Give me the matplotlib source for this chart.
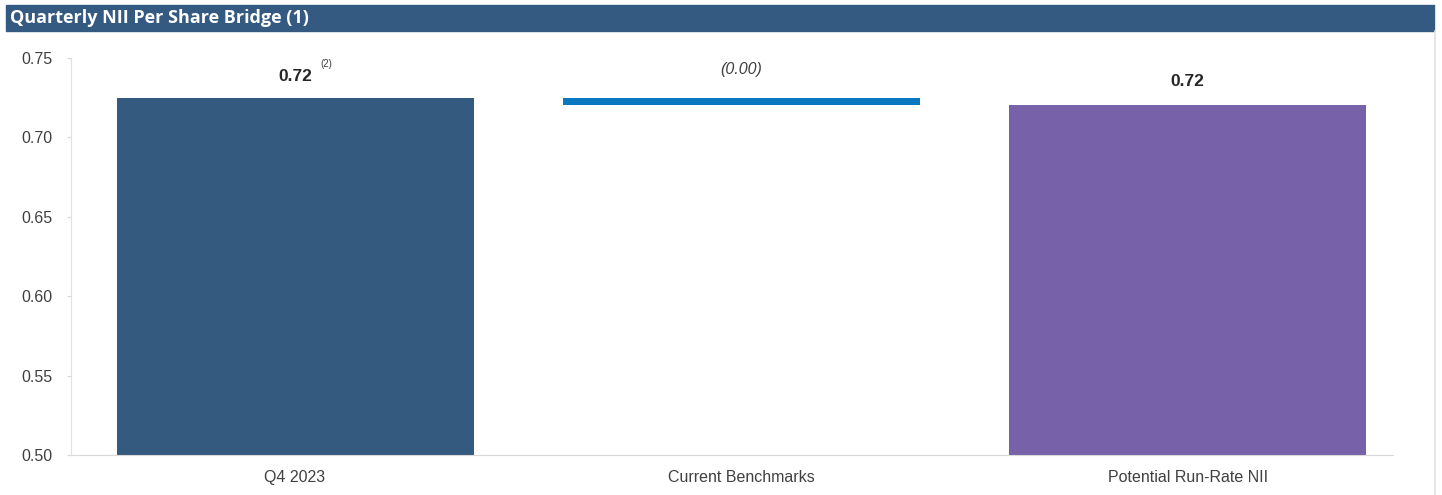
import matplotlib
matplotlib.use("Agg")
import matplotlib.pyplot as plt
from matplotlib.patches import Rectangle
from matplotlib.lines import Line2D

# data
categories = ["Q4 2023", "Current Benchmarks", "Potential Run-Rate NII"]
start_value = 0.7245
change = -0.0041
end_value = start_value + change
labels = ["0.72", "(0.00)", "0.72"]
yticks = [0.50, 0.55, 0.60, 0.65, 0.70, 0.75]
title = "Quarterly NII Per Share Bridge (1)"

plt.rcParams["font.family"] = ["Liberation Sans", "DejaVu Sans"]

fig = plt.figure(figsize=(14.42, 4.95), dpi=100)
ax = fig.add_axes([71 / 1442, 40 / 495, 1322 / 1442, (455 - 58) / 495])

# title bar
fig.patches.append(Rectangle((6 / 1442, 1 - 31 / 495), 1428 / 1442, 26 / 495,
                             transform=fig.transFigure, color="#345a82", zorder=0))
fig.text(10 / 1442, 1 - 18 / 495, title, color="white", fontsize=13,
         fontweight="bold", family=["Open Sans", "DejaVu Sans"], va="center", ha="left")
# right border line
fig.lines.append(Line2D([1435 / 1442, 1435 / 1442], [0, 1 - 31 / 495],
                        transform=fig.transFigure, color="#e0e0e0", lw=1.2))

x = range(len(categories))
bottom = 0.5
ax.bar(0, start_value - bottom, bottom=bottom, width=0.8, color="#345a80")
ax.bar(1, abs(change), bottom=end_value, width=0.8, color="#0a78c0")
ax.bar(2, end_value - bottom, bottom=bottom, width=0.8, color="#7761a9")

ax.set_ylim(0.5, 0.75)
ax.set_xlim(-0.502, 2.46)
ax.set_yticks(yticks)
ax.set_yticklabels(["%.2f" % v for v in yticks])
ax.set_xticks(list(x))
ax.set_xticklabels(categories)
ax.tick_params(axis="y", labelsize=11.5, colors="#d8d8d8", labelcolor="#404040",
               length=3, pad=10)
ax.tick_params(axis="x", labelsize=11.5, labelcolor="#404040", length=0, pad=11)

for s in ["top", "right"]:
    ax.spines[s].set_visible(False)
ax.spines["left"].set_color("#e0e0e0")
ax.spines["bottom"].set_color("#d8d8d8")

# value labels
ax.text(0, start_value + 0.014, labels[0], ha="center", va="center",
        fontsize=12.5, fontweight="bold", color="#262626")
ax.text(0.07, start_value + 0.0215, "(2)", ha="center", va="center",
        fontsize=7, color="#404040")
ax.text(1, start_value + 0.018, labels[1], ha="center", va="center",
        fontsize=11.5, style="italic", color="#404040")
ax.text(2, end_value + 0.0145, labels[2], ha="center", va="center",
        fontsize=12.5, fontweight="bold", color="#262626")

fig.savefig("out.png", dpi=100)
